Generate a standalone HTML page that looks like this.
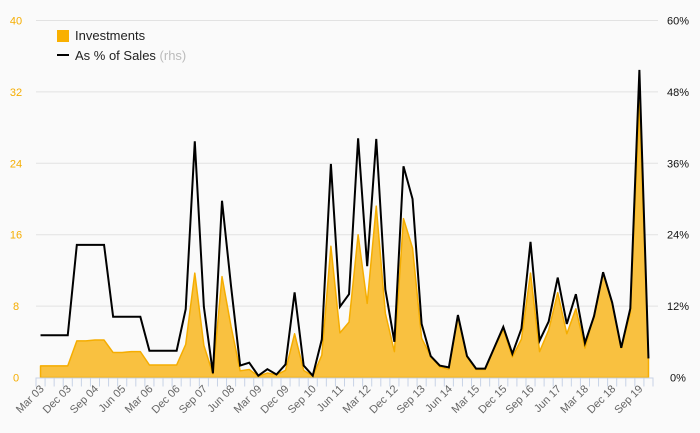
<!DOCTYPE html>
<html><head><meta charset="utf-8"><style>
body{margin:0;background:#fafafa;}
svg{display:block;font-family:"Liberation Sans",sans-serif;}
</style></head><body>
<svg id="c" width="700" height="433"></svg>
<script>
const categories=(function(){const m=["Mar","Jun","Sep","Dec"],o=[];for(let y=3;y<=19;y++)for(const q of m)o.push(q+" "+String(y).padStart(2,"0"));return o;})();
const investments=[1.3,1.3,1.3,1.3,4.1,4.1,4.2,4.2,2.8,2.8,2.9,2.9,1.4,1.4,1.4,1.4,3.7,11.7,3.6,0.4,11.3,5.7,0.75,0.9,0.15,0.5,0.3,0.8,4.9,0.8,0.15,2.5,14.7,5.0,6.2,16.0,8.3,19.2,7.2,2.9,17.8,14.5,4.4,2.4,1.2,0.9,6.9,2.3,0.9,0.9,3.3,5.4,2.3,4.3,11.7,2.9,5.3,9.5,4.9,7.7,3.3,7.0,11.7,8.3,3.3,7.2,31.0,2.1];
const salesPct=[7.1,7.1,7.1,7.1,22.3,22.3,22.3,22.3,10.2,10.2,10.2,10.2,4.5,4.5,4.5,4.5,11.5,39.7,11.9,0.7,29.7,15.3,2.0,2.5,0.3,1.4,0.5,2.2,14.3,2.0,0.3,6.4,35.9,11.9,14.0,40.2,18.7,40.1,14.8,6.0,35.5,30.0,9.0,3.6,2.0,1.7,10.5,3.6,1.5,1.5,5.0,8.5,4.0,8.2,22.8,6.2,9.4,16.8,9.0,14.0,5.8,10.3,17.7,12.6,5.0,11.6,51.7,3.2];
const leftTicks=[0,8,16,24,32,40];
const rightTicks=["0%","12%","24%","36%","48%","60%"];
const NS="http://www.w3.org/2000/svg",svg=document.getElementById("c");
const X0=36,X1=653,Y0=377.5,Y1=20.5,n=categories.length,bw=(X1-X0)/n;
const x=i=>X0+bw*(i+0.5);
const yL=v=>Y0-(v/40)*(Y0-Y1);
const yR=v=>Y0-(v/60)*(Y0-Y1);
function el(t,a,p){const e=document.createElementNS(NS,t);for(const k in a)e.setAttribute(k,a[k]);(p||svg).appendChild(e);return e;}
leftTicks.forEach((t,i)=>{
 if(i>0){const g=el("line",{x1:X0,x2:X1+5,y1:yL(t),y2:yL(t),stroke:"#e2e2e2","stroke-width":1});
 
 }
 const l=el("text",{x:16,y:yL(t)+4,"font-size":11,fill:"#f5ad00","text-anchor":"middle"});l.textContent=t;
 
 
 const r=el("text",{x:678,y:yL(t)+4,"font-size":11,fill:"#111","text-anchor":"middle"});r.textContent=rightTicks[i];
 
 
});
let d="M"+x(0)+","+Y0;investments.forEach((v,i)=>d+="L"+x(i)+","+yL(v));d+="L"+x(n-1)+","+Y0+"Z";
const area=el("path",{d:d,fill:"#f9c140",stroke:"#f5ad00","stroke-width":1.5,"stroke-linejoin":"round"});


let ld="";salesPct.forEach((v,i)=>ld+=(i?"L":"M")+x(i)+","+yR(v));
const line=el("path",{d:ld,fill:"none",stroke:"#000","stroke-width":2,"stroke-linejoin":"miter"});


const ax=el("line",{x1:X0,x2:X1,y1:Y0+0.5,y2:Y0+0.5,stroke:"#c8d3e6","stroke-width":1});


for(let i=0;i<=n;i++){const t=el("line",{x1:X0+bw*i,x2:X0+bw*i,y1:Y0,y2:Y0+9,stroke:"#c8d3e6","stroke-width":1});
 
 }
categories.forEach((c,i)=>{if(i%3)return;
 const tx=x(i)+4,ty=Y0+12;
 const t=el("text",{x:tx,y:ty,"font-size":11,fill:"#666","text-anchor":"end",transform:`rotate(-45 ${tx} ${ty})`});t.textContent=c;
 
 
});
const lg=el("g",{});


const sq=el("rect",{x:57,y:30,width:12,height:12,fill:"#f9b000"},lg);


const t1=el("text",{x:75,y:40,"font-size":13,fill:"#222"},lg);t1.textContent="Investments";


const ll=el("line",{x1:57,x2:69,y1:55,y2:55,stroke:"#000","stroke-width":2},lg);


const t2=el("text",{x:75,y:60,"font-size":13,fill:"#222"},lg);t2.innerHTML='As % of Sales <tspan fill="#bbb">(rhs)</tspan>';


</script>
</body></html>
